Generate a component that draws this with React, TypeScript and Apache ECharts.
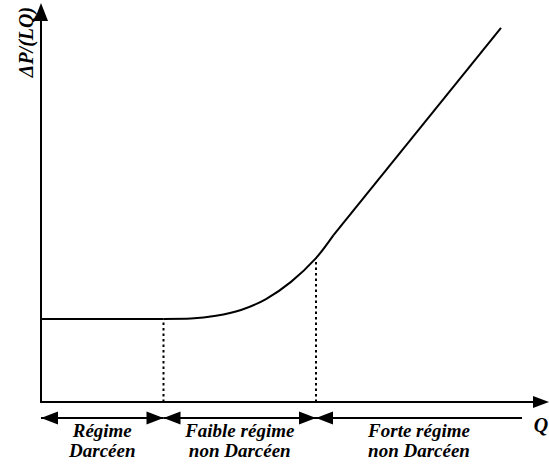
import React, { useEffect, useRef } from 'react';
import * as echarts from 'echarts';

// Flow rate Q (arbitrary units) and pressure loss per unit length ΔP/(LQ)
const flowQ = [0, 2.45, 3, 3.5, 4, 4.5, 5, 5.5, 5.85, 9.2];
const headLoss = [2.13, 2.13, 2.14, 2.21, 2.36, 2.64, 3.08, 3.69, 4.28, 9.59];
// regime boundaries along Q
const regimeBounds = [0, 2.45, 5.5, 9.62];
const regimeLabels = ['Régime\nDarcéen', 'Faible régime\nnon Darcéen', 'Forte régime\nnon Darcéen'];
// dotted divider lines (Q, ΔP at curve)
const dividerQ = [2.45, 5.5];
const dividerP = [2.13, 3.69];

const FONT = 'Liberation Serif';

export default function App() {
  const ref = useRef<HTMLDivElement>(null);
  useEffect(() => {
    if (!ref.current) return;
    const chart = echarts.init(ref.current, null, { renderer: 'svg' });
    const pts = flowQ.map((q, i) => [q, headLoss[i]]);
    const lineStyle = { color: '#000', width: 2 };
    const textBase = {
      fontFamily: FONT,
      fontWeight: 'bold' as const,
      fontStyle: 'italic' as const,
      fontSize: 19,
      color: '#000',
    };
    const segs = regimeLabels.map((lab, i) => [
      {
        coord: [regimeBounds[i], 0.5],
        name: lab,
        symbol: 'triangle',
        symbolSize: [13, 17],
        symbolOffset: [0, 8.5],
      },
      {
        coord: [regimeBounds[i + 1], 0.5],
        symbol: i < 2 ? 'triangle' : 'none',
        symbolSize: [13, 17],
        symbolOffset: [0, 8.5],
      },
    ]);
    chart.setOption({
      animation: false,
      grid: [
        { left: 41, right: 8, top: 12, bottom: 66 },
        { left: 41, right: 8, top: 413, height: 10 },
      ],
      xAxis: [
        {
          type: 'value', min: 0, max: 10, gridIndex: 0,
          axisLine: { show: true, onZero: false, lineStyle, symbol: ['none', 'triangle'], symbolSize: [12, 16] },
          axisTick: { show: false }, axisLabel: { show: false }, splitLine: { show: false },
        },
        { type: 'value', min: 0, max: 10, gridIndex: 1, show: false },
      ],
      yAxis: [
        {
          type: 'value', min: 0, max: 10, gridIndex: 0,
          axisLine: { show: true, onZero: false, lineStyle, symbol: ['none', 'triangle'], symbolSize: [14, 18] },
          axisTick: { show: false }, axisLabel: { show: false }, splitLine: { show: false },
        },
        { type: 'value', min: 0, max: 1, gridIndex: 1, show: false },
      ],
      series: [
        {
          type: 'line', data: pts.slice(0, 2), symbol: 'none',
          lineStyle, xAxisIndex: 0, yAxisIndex: 0,
        },
        {
          type: 'line', data: pts.slice(1, 9), symbol: 'none', smooth: 0.3,
          lineStyle, xAxisIndex: 0, yAxisIndex: 0,
        },
        {
          type: 'line', data: pts.slice(8), symbol: 'none',
          lineStyle, xAxisIndex: 0, yAxisIndex: 0,
        },
        ...dividerQ.map((q, i) => ({
          type: 'line', data: [[q, 0], [q, dividerP[i]]], symbol: 'none',
          lineStyle: { color: '#000', width: 2, type: [2.5, 3] },
          xAxisIndex: 0, yAxisIndex: 0,
        })),
        {
          type: 'line', data: [], xAxisIndex: 1, yAxisIndex: 1, symbol: 'none',
          markLine: {
            silent: true,
            lineStyle: { color: '#000', width: 2, type: 'solid' },
            label: {
              show: true, position: 'insideMiddleBottom', formatter: '{b}', distance: 2,
              lineHeight: 20, ...textBase,
            },
            data: segs,
          },
        },
      ],
      graphic: [
        {
          type: 'text', x: 26, y: 42, rotation: Math.PI / 2,
          style: { text: 'ΔP/(LQ)', align: 'center', verticalAlign: 'middle', fontFamily: FONT, fontWeight: 'bold', fontStyle: 'italic', fontSize: 20, fill: '#000' },
        },
        {
          type: 'text', x: 541, y: 425,
          style: { text: 'Q', align: 'center', verticalAlign: 'middle', fontFamily: FONT, fontWeight: 'bold', fontStyle: 'italic', fontSize: 20, fill: '#000' },
        },
      ],
    });
    return () => chart.dispose();
  }, []);
  return <div ref={ref} style={{ position: 'fixed', left: 0, top: 0, width: 549, height: 468, background: '#fff' }} />;
}
